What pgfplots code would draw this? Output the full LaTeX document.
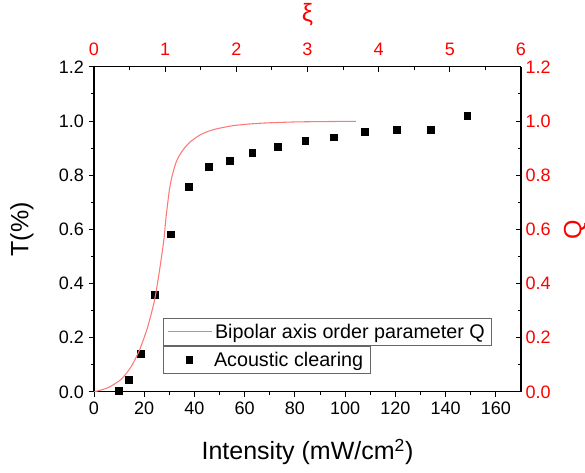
\documentclass[border=0pt]{standalone}
\usepackage{pgfplots}
\pgfplotsset{compat=1.18}
\usepackage{fontspec}
\setmainfont{Liberation Sans}
\definecolor{qred}{RGB}{255,0,0}
\definecolor{curvered}{RGB}{255,120,120}
\pgfplotsset{markleg/.style={legend image code/.code={\path[draw=none,fill=none] (0pt,-3pt) rectangle (33pt,3pt);\draw[mark repeat=2,mark phase=2,##1] plot coordinates {(0pt,0pt) (16.5pt,0pt) (33pt,0pt)};}}}
\begin{document}
\begin{tikzpicture}
\useasboundingbox (-70.5pt,-60.1pt) rectangle (368.25pt,293.9pt);
\pgfplotsset{
 common/.style={
  scale only axis, width=320.25pt, height=243.75pt,
  at={(0pt,0pt)}, anchor=south west,
  ymin=0, ymax=1.2,
  ytick={0,0.2,0.4,0.6,0.8,1.0,1.2},
  minor y tick num=1,
  /pgf/number format/assume math mode=true,
  tick style={black, line width=0.7pt},
  axis line style={line width=0.8pt},
  major tick length=4pt, minor tick length=2.4pt,
  ticklabel style={font=\fontsize{13.5}{16}\selectfont},
  label style={font=\fontsize{18.75}{22}\selectfont},
  legend style={font=\fontsize{14.8}{17}\selectfont, draw=black!60, line width=0.5pt, cells={anchor=west}},
  legend cell align=left,
  yticklabel style={/pgf/number format/fixed, /pgf/number format/fixed zerofill, /pgf/number format/precision=1},
 }
}
\begin{axis}[common,
  xmin=0, xmax=170, xtick={0,20,...,160}, minor x tick num=1,
  axis x line*=bottom, axis y line*=left, tick align=outside,
  xlabel={Intensity (mW/cm\textsuperscript{2})}, ylabel={T(\%)},
  xlabel style={at={(axis description cs:0.5,-0.1846)}, anchor=center},
  ylabel style={at={(axis description cs:-0.1686,0.5)}, anchor=center},
  legend style={at={(0.1616,0.141)}, anchor=north west},
]
\addplot[only marks, mark=square*, mark size=2.6pt, black, markleg] coordinates {
(9.7,0.003) (13.9,0.046) (18.5,0.142) (24.3,0.359) (30.4,0.582) (37.7,0.759)
(45.6,0.830) (53.9,0.855) (63.0,0.883) (73.3,0.905) (84.1,0.926) (95.4,0.940)
(107.7,0.962) (120.6,0.969) (134.2,0.968) (148.6,1.018)
};
\addlegendentry{Acoustic clearing}
\end{axis}
\begin{axis}[common,
  xmin=0, xmax=6, xtick={0,1,2,3,4,5,6}, minor x tick num=1,
  axis x line*=top, axis y line*=right, tick align=inside,
  xticklabel style={text=qred, yshift=5pt}, yticklabel style={text=qred},
  xlabel={ξ}, ylabel={Q},
  xlabel style={text=qred, at={(axis description cs:0.5,1.16)}, anchor=center},
  ylabel style={text=qred, at={(axis description cs:1.1265,0.5)}, anchor=center},
  legend style={at={(0.1616,0.227)}, anchor=north west},
  legend image code/.code={\draw[#1] (0pt,0pt) -- (33pt,0pt);},
]
\addplot[curvered, line width=0.8pt, smooth, tension=0.4, no marks] coordinates {
(0.0,0.0) (0.194,0.015) (0.381,0.046) (0.522,0.093) (0.639,0.154) (0.755,0.240)
(0.851,0.339) (0.921,0.449) (0.981,0.560) (1.013,0.646) (1.059,0.745) (1.100,0.800)
(1.150,0.845) (1.200,0.873) (1.270,0.900) (1.340,0.920) (1.412,0.935) (1.500,0.950)
(1.595,0.961) (1.719,0.971) (1.952,0.983) (2.180,0.989) (2.421,0.993)
(2.887,0.997) (3.681,0.999)
};
\addlegendentry{Bipolar axis order parameter Q}
\end{axis}
\end{tikzpicture}
\end{document}
